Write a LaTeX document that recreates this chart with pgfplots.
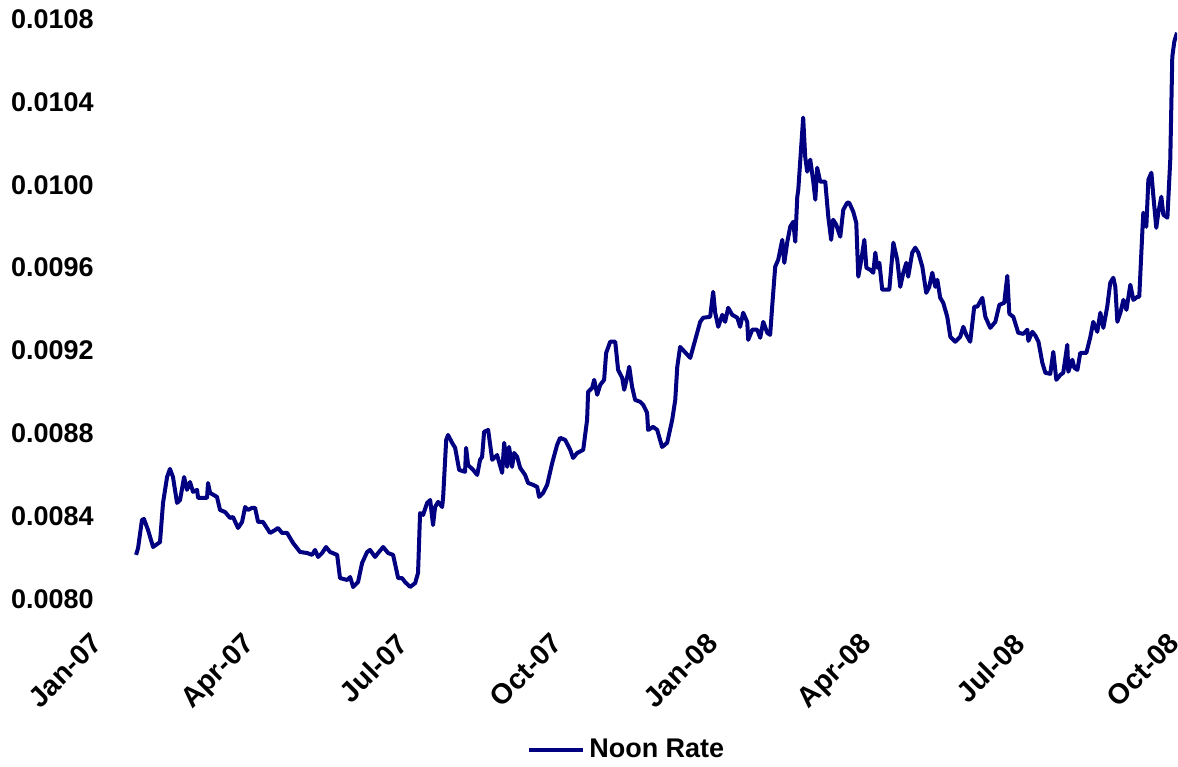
\documentclass[border=0pt]{standalone}
\usepackage{pgfplots}
\pgfplotsset{compat=1.18}
\usepackage{pgfplotstable}
\usepackage{fontspec}
\setmainfont{Liberation Sans}
\definecolor{navyline}{RGB}{0,0,128}

% day count from 1 Jan 2007, noon rate
\pgfplotstableread{
d r
21.4 0.008213
22.6 0.008246
24.9 0.008382
26.1 0.008386
28.5 0.008333
31.5 0.008251
35.6 0.008275
37.4 0.008464
39.8 0.008589
41.5 0.008628
43.3 0.008589
45.7 0.008464
47.5 0.008478
49.9 0.008589
51.6 0.008527
53.4 0.008565
55.2 0.008517
57.6 0.008527
58.2 0.008488
63.5 0.008488
64.1 0.008560
65.3 0.008512
69.4 0.008493
71.2 0.008430
74.2 0.008420
77.2 0.008391
78.9 0.008396
81.9 0.008343
84.3 0.008372
86.1 0.008444
87.8 0.008430
90.2 0.008440
92.0 0.008440
93.8 0.008372
96.7 0.008372
100.9 0.008319
103.9 0.008333
105.6 0.008343
108.0 0.008319
111.0 0.008319
114.5 0.008271
118.7 0.008227
122.9 0.008222
125.8 0.008213
127.6 0.008237
129.4 0.008203
131.8 0.008222
134.1 0.008251
136.5 0.008227
140.7 0.008213
142.4 0.008101
146.6 0.008092
148.4 0.008106
150.2 0.008058
153.1 0.008082
155.5 0.008174
158.5 0.008227
160.2 0.008237
163.2 0.008203
165.0 0.008222
168.0 0.008251
170.9 0.008222
173.9 0.008213
176.9 0.008101
179.2 0.008101
181.0 0.008082
184.0 0.008058
187.0 0.008077
188.7 0.008126
189.9 0.008415
191.7 0.008406
194.1 0.008464
195.9 0.008478
197.6 0.008357
198.8 0.008444
200.6 0.008469
203.0 0.008444
203.6 0.008493
205.4 0.008768
206.5 0.008792
208.9 0.008754
210.7 0.008730
213.1 0.008623
216.6 0.008614
217.2 0.008730
218.4 0.008647
221.4 0.008623
223.8 0.008599
225.5 0.008672
226.7 0.008686
227.9 0.008807
230.3 0.008816
232.7 0.008672
235.6 0.008695
238.6 0.008609
239.8 0.008754
241.6 0.008638
242.7 0.008734
244.5 0.008638
245.7 0.008705
247.5 0.008686
249.3 0.008633
252.2 0.008599
254.0 0.008560
257.0 0.008551
259.4 0.008541
260.5 0.008493
262.9 0.008512
265.3 0.008551
268.3 0.008657
271.2 0.008744
273.0 0.008778
276.0 0.008768
279.0 0.008720
280.7 0.008681
283.1 0.008705
286.7 0.008720
289.0 0.008865
289.6 0.009000
292.0 0.009019
293.2 0.009058
295.0 0.008986
296.8 0.009034
299.1 0.009058
300.3 0.009188
302.7 0.009242
305.7 0.009242
307.4 0.009106
309.8 0.009068
311.0 0.009010
312.8 0.009072
314.0 0.009121
315.7 0.009024
317.5 0.008961
320.5 0.008952
322.3 0.008937
324.6 0.008899
325.2 0.008816
328.2 0.008831
330.6 0.008816
333.5 0.008734
336.5 0.008754
339.5 0.008865
341.3 0.008961
342.5 0.009121
344.2 0.009217
350.2 0.009164
356.1 0.009338
357.9 0.009358
362.0 0.009362
363.8 0.009483
365.0 0.009382
366.8 0.009314
369.2 0.009372
370.9 0.009338
372.7 0.009406
375.1 0.009372
378.1 0.009358
379.8 0.009314
381.6 0.009382
384.0 0.009338
384.6 0.009251
387.0 0.009300
389.9 0.009300
391.7 0.009261
393.5 0.009338
395.9 0.009285
397.6 0.009275
398.8 0.009411
400.6 0.009604
402.4 0.009638
404.8 0.009734
406.0 0.009623
407.7 0.009720
409.5 0.009797
411.3 0.009821
412.5 0.009725
413.7 0.009942
414.3 0.009976
417.2 0.010324
418.4 0.010135
419.6 0.010063
421.4 0.010121
423.2 0.010015
424.4 0.009928
425.5 0.010082
427.3 0.010015
430.3 0.010015
432.1 0.009845
433.8 0.009734
435.0 0.009831
436.8 0.009807
439.2 0.009749
441.0 0.009879
443.3 0.009913
444.5 0.009913
446.9 0.009870
448.7 0.009816
449.9 0.009556
451.7 0.009638
453.5 0.009734
454.7 0.009599
457.0 0.009589
458.8 0.009575
460.0 0.009672
461.2 0.009599
462.4 0.009623
464.1 0.009493
468.3 0.009493
470.7 0.009720
473.0 0.009638
474.8 0.009507
476.6 0.009575
478.4 0.009623
479.5 0.009556
481.9 0.009672
483.7 0.009696
485.5 0.009672
487.9 0.009604
490.2 0.009478
492.0 0.009507
493.8 0.009575
495.6 0.009507
496.8 0.009541
498.5 0.009454
500.3 0.009430
502.7 0.009362
504.5 0.009266
507.4 0.009242
510.4 0.009266
512.2 0.009314
514.0 0.009275
516.3 0.009242
518.7 0.009411
520.5 0.009411
523.5 0.009454
525.3 0.009362
528.2 0.009309
531.2 0.009338
533.6 0.009420
536.5 0.009430
538.3 0.009560
539.5 0.009377
541.9 0.009362
544.8 0.009285
547.8 0.009280
550.2 0.009300
550.8 0.009246
553.2 0.009290
555.0 0.009271
556.8 0.009242
559.1 0.009140
560.9 0.009092
563.8 0.009087
565.6 0.009193
567.4 0.009058
569.8 0.009082
571.5 0.009092
573.9 0.009227
574.5 0.009097
576.9 0.009155
578.1 0.009116
579.9 0.009106
581.6 0.009188
585.2 0.009188
587.6 0.009266
589.3 0.009338
591.7 0.009290
593.5 0.009382
595.3 0.009309
597.6 0.009411
599.4 0.009527
601.2 0.009551
602.4 0.009507
603.6 0.009338
605.4 0.009382
607.2 0.009444
609.0 0.009396
611.3 0.009517
613.1 0.009444
615.5 0.009459
616.6 0.009459
618.4 0.009768
619.0 0.009865
620.8 0.009797
622.0 0.010024
623.8 0.010058
625.0 0.009942
626.7 0.009792
627.9 0.009865
629.7 0.009942
630.9 0.009855
633.3 0.009841
635.0 0.010121
636.2 0.010618
637.4 0.010691
639.0 0.010734
}\noonrate

\begin{document}
\begin{tikzpicture}
\begin{axis}[
name=ax,
scale only axis,
width=538.5pt, height=290pt,
xmin=0, xmax=639,
ymin=0.0080, ymax=0.0108,
axis lines=left,
axis line style={draw=none},
major tick length=0pt,
xtick={0,90,181,273,365,456,547,639},
xticklabels={Jan-07,Apr-07,Jul-07,Oct-07,Jan-08,Apr-08,Jul-08,Oct-08},
ytick={0.0080,0.0084,0.0088,0.0092,0.0096,0.0100,0.0104,0.0108},
scaled y ticks=false,
yticklabel style={/pgf/number format/fixed, /pgf/number format/fixed zerofill,
  /pgf/number format/precision=4, /pgf/number format/assume math mode=true,
  inner sep=0pt, xshift=-3pt},
tick label style={font=\bfseries\fontsize{13.5}{16}\selectfont},
xticklabel style={xshift=-5pt, yshift=-16pt, rotate=45, anchor=north east, inner sep=0pt,
  font=\bfseries\fontsize{14.2}{16}\selectfont},
legend style={draw=none, fill=none, at={(0.49,0)}, anchor=center, yshift=-75.5pt,
  font=\bfseries\fontsize{13.5}{16}\selectfont},
legend image code/.code={\draw[#1] (0cm,0cm) -- (0.95cm,0cm);},
]
\addplot[color=navyline, line width=2pt, line join=round, no marks] table[x=d, y=r] {\noonrate};
\addlegendentry{Noon Rate}
\end{axis}
\pgfresetboundingbox
\path[use as bounding box] ([xshift=-50pt,yshift=-83.5pt]ax.south west) rectangle ([xshift=0.5pt,yshift=9.5pt]ax.north east);
\end{tikzpicture}
\end{document}
